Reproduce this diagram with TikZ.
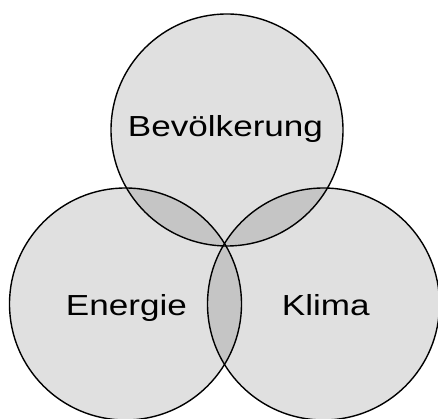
\documentclass[tikz,border=0pt]{standalone}
\usepackage{fontspec}
\newfontfamily\vennfont[FakeStretch=1.21]{Liberation Sans}

\begin{document}
\begin{tikzpicture}[x=1pt,y=1pt,
  vset/.style={circle,draw,line width=1.4pt,fill=black,fill opacity=0.12,
    minimum size=232pt,inner sep=0pt},
  vlabel/.style={anchor=base,inner sep=0pt,font=\vennfont\fontsize{29}{34}\selectfont}]
\useasboundingbox (0,0) rectangle (438,419);
% the three sets
\node[vset] (bev) at (227,289) {};
\node[vset] (ene) at (125.5,115) {};
\node[vset] (kli) at (323.5,115) {};

% names
\node[vlabel] (tbev) at (225.5,282.3) {Bevölkerung};
\node[vlabel] (tene) at (126.4,103) {Energie};
\node[vlabel] (tkli) at (325.8,103) {Klima};
\end{tikzpicture}
\end{document}
